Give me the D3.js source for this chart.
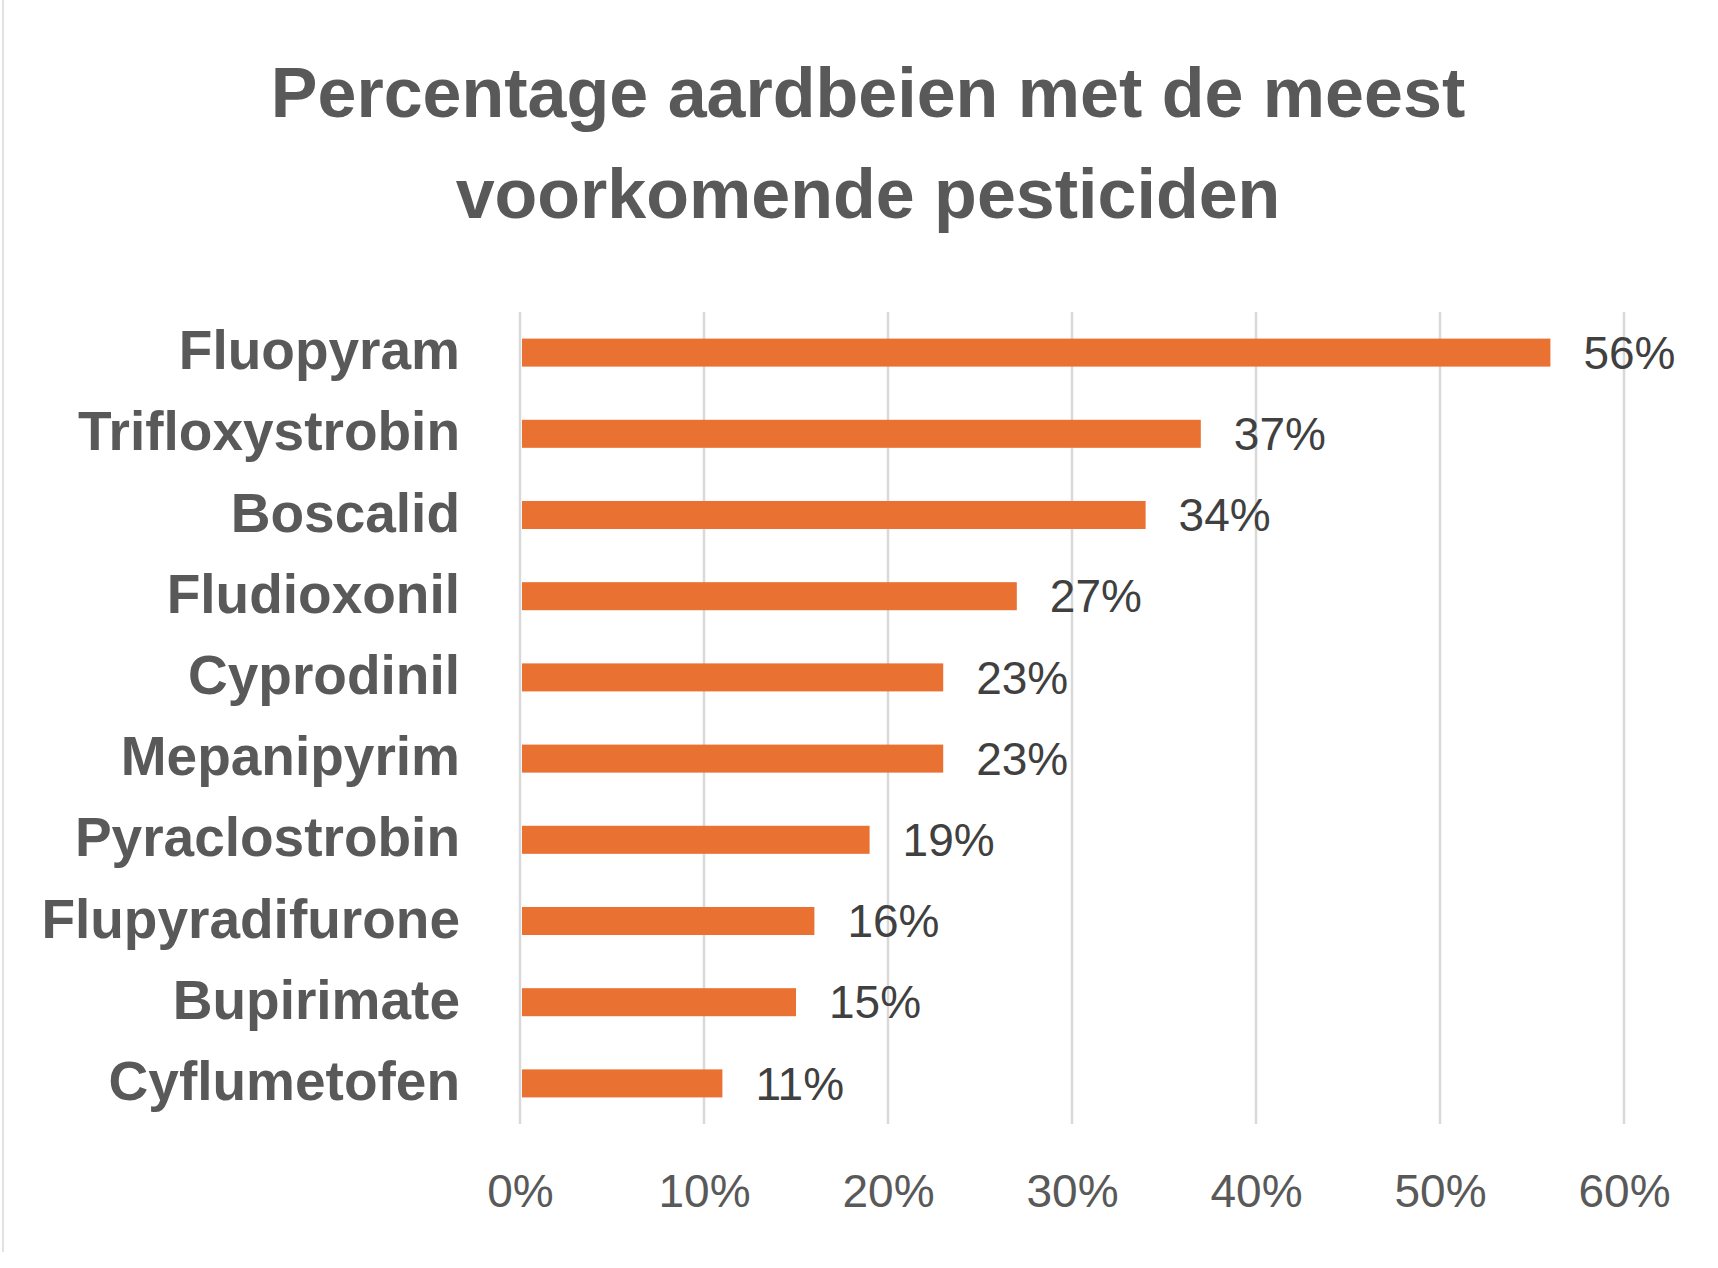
<!DOCTYPE html>
<html>
<head>
<meta charset="utf-8">
<script src="https://cdn.jsdelivr.net/npm/d3@7"></script>
<style>
  body { margin: 0; background: #fff; }
  svg text { font-family: "Liberation Sans", Arial, sans-serif; }
</style>
</head>
<body>
<div id="plot"></div>
<script>
var categories = ["Fluopyram", "Trifloxystrobin", "Boscalid", "Fludioxonil", "Cyprodinil",
  "Mepanipyrim", "Pyraclostrobin", "Flupyradifurone", "Bupirimate", "Cyflumetofen"];
var values = [56, 37, 34, 27, 23, 23, 19, 16, 15, 11];
var ticks = [0, 10, 20, 30, 40, 50, 60];
var titleLines = ["Percentage aardbeien met de meest", "voorkomende pesticiden"];

var W = 1718, H = 1268;
var margin = {top: 312, left: 520, right: 94, bottom: 144};
var width = W - margin.left - margin.right,
    height = H - margin.top - margin.bottom;

var svg = d3.select("#plot")
  .append("svg")
  .attr("width", W)
  .attr("height", H);

// thin chart frame edge on the left
svg.append("line")
  .attr("x1", 3).attr("x2", 3)
  .attr("y1", 0).attr("y2", 1252)
  .attr("stroke", "#d9d9d9")
  .attr("stroke-width", 1.5);

svg.selectAll(".title")
  .data(titleLines)
  .enter()
  .append("text")
  .attr("class", "title")
  .attr("x", 868)
  .attr("y", function(d, i) { return 117 + i * 101; })
  .attr("text-anchor", "middle")
  .style("font-size", "70px")
  .style("font-weight", "bold")
  .style("fill", "#595959")
  .text(function(d) { return d; });

var g = svg.append("g")
  .attr("transform", "translate(" + margin.left + "," + margin.top + ")");

var x = d3.scaleLinear()
  .domain([0, 60])
  .range([0, width]);

var y = d3.scaleBand()
  .domain(categories)
  .range([0, height])
  .paddingInner(0.655)
  .paddingOuter(0.3275);

// vertical gridlines
g.append("g")
  .selectAll("line")
  .data(ticks)
  .enter()
  .append("line")
  .attr("x1", function(d) { return x(d); })
  .attr("x2", function(d) { return x(d); })
  .attr("y1", 0)
  .attr("y2", height)
  .attr("stroke", "#d9d9d9")
  .attr("stroke-width", 2.5);

var xAxis = g.append("g")
  .attr("transform", "translate(0," + height + ")")
  .call(d3.axisBottom(x).tickValues(ticks).tickSize(0).tickPadding(0)
    .tickFormat(function(d) { return d + "%"; }));
xAxis.select(".domain").remove();
xAxis.selectAll("text")
  .attr("y", 83)
  .attr("dy", 0)
  .style("font-size", "46px")
  .style("font-family", "'Liberation Sans', Arial, sans-serif")
  .style("fill", "#595959");

var yAxis = g.append("g")
  .call(d3.axisLeft(y).tickSize(0).tickPadding(60));
yAxis.select(".domain").remove();
yAxis.selectAll("text")
  .attr("dy", "0.3em")
  .style("font-size", "55px")
  .style("font-weight", "bold")
  .style("font-family", "'Liberation Sans', Arial, sans-serif")
  .style("fill", "#595959");

g.append("g")
  .selectAll("rect")
  .data(values)
  .enter()
  .append("rect")
  .attr("x", x(0) + 2)
  .attr("y", function(d, i) { return y(categories[i]); })
  .attr("width", function(d) { return x(d) - x(0) - 2; })
  .attr("height", y.bandwidth())
  .style("fill", "#E97132");

g.append("g")
  .selectAll("text")
  .data(values)
  .enter()
  .append("text")
  .attr("x", function(d) { return x(d) + 33; })
  .attr("y", function(d, i) { return y(categories[i]) + y.bandwidth() / 2; })
  .attr("dy", "0.35em")
  .style("font-size", "46px")
  .style("fill", "#404040")
  .text(function(d) { return d + "%"; });
</script>
</body>
</html>
